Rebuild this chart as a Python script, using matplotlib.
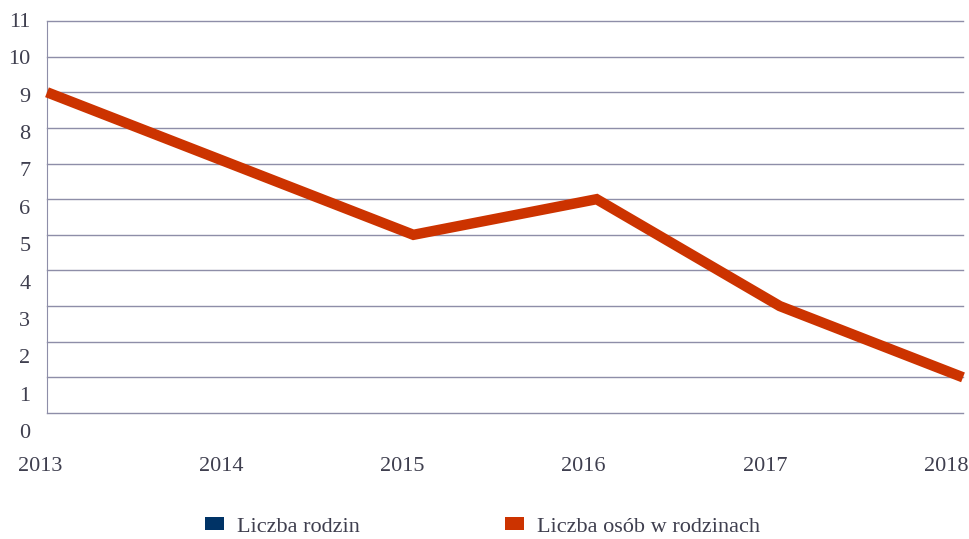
import matplotlib
matplotlib.use('Agg')
import matplotlib.pyplot as plt
import matplotlib.transforms as mtransforms
from matplotlib.patches import Patch

years = [2013, 2014, 2015, 2016, 2017, 2018]
osoby = [9, 7, 5, 6, 3, 1]
series_names = ['Liczba rodzin', 'Liczba osób w rodzinach']
series_colors = ['#003366', '#CC3300']

plt.rcParams['font.family'] = ['Liberation Serif', 'DejaVu Serif']
text_col = '#3f3f4f'
grid_col = '#8e8ea8'
fs = 16

fig = plt.figure(figsize=(9.69, 5.39), dpi=100)
ax = fig.add_axes([47/969, 1-413/539, (963-47)/969, (413-21)/539])

ax.plot(years, osoby, color=series_colors[1], lw=7.5, solid_capstyle='butt',
        solid_joinstyle='miter', zorder=3, clip_on=False)

ax.set_xlim(2013, 2018)
ax.set_ylim(0, 11)
ax.set_yticks(range(0, 12))
ax.set_xticks(years)
ax.grid(axis='y', color=grid_col, lw=1)
ax.set_axisbelow(True)
for s in ['top', 'right', 'bottom']:
    ax.spines[s].set_visible(False)
ax.spines['left'].set_color(grid_col)
ax.tick_params(axis='both', length=0, labelsize=fs, colors=text_col)
ax.tick_params(axis='y', pad=12)
ax.tick_params(axis='x', pad=32)
for gl in ax.get_ygridlines():
    gl.set_clip_on(False)

# the original labels drift a little from their gridlines / points
for v, lab in zip(range(0, 12), ax.get_yticklabels()):
    dy = -(-1 + (11 - v) * 1.73) / 100
    lab.set_transform(lab.get_transform() + mtransforms.ScaledTranslation(0, dy, fig.dpi_scale_trans))
for i, lab in enumerate(ax.get_xticklabels()):
    dx = (-7 - 2 * i) / 100
    lab.set_transform(lab.get_transform() + mtransforms.ScaledTranslation(dx, 0, fig.dpi_scale_trans))

handles = [Patch(facecolor=c, edgecolor='none', label=n) for c, n in zip(series_colors, series_names)]
fig.legend(handles=handles, loc='center', bbox_to_anchor=(0.498, 1-527/539), ncol=2,
           frameon=False, fontsize=fs, labelcolor=text_col, handlelength=0.85,
           handleheight=0.52, columnspacing=6.5, handletextpad=0.6, borderpad=0)

fig.savefig('out.png', dpi=100)
